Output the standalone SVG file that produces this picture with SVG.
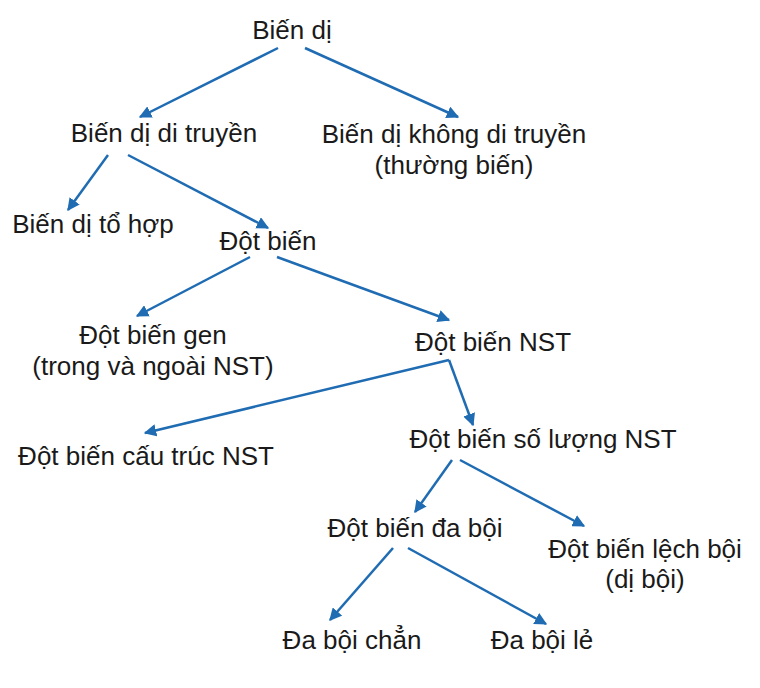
<svg xmlns="http://www.w3.org/2000/svg" width="760" height="688" viewBox="0 0 760 688">
<style>
text{font-family:"Liberation Sans",Arial,sans-serif;font-size:26px;fill:#1a1a1a;text-anchor:middle}
.c line{stroke:#1f6cb3;stroke-width:2.5;marker-end:url(#a)}
</style>
<defs><marker id="a" viewBox="0 0 10 10" refX="9" refY="5" markerWidth="5" markerHeight="5" orient="auto" markerUnits="strokeWidth"><path d="M0,0L10,5L0,10z" fill="#1f6cb3"/></marker></defs>
<rect width="760" height="688" fill="#fff"/>
<g class="c">
<line x1="278" y1="48" x2="140" y2="117"/>
<line x1="305" y1="48" x2="458" y2="117"/>
<line x1="108" y1="155" x2="68" y2="210"/>
<line x1="128" y1="155" x2="268" y2="228"/>
<line x1="250" y1="257" x2="137" y2="316"/>
<line x1="277" y1="257" x2="449" y2="320"/>
<line x1="449" y1="360" x2="145" y2="433"/>
<line x1="449" y1="360" x2="473" y2="425"/>
<line x1="452" y1="460" x2="415" y2="512"/>
<line x1="460" y1="460" x2="584" y2="526"/>
<line x1="393" y1="548" x2="330" y2="620"/>
<line x1="408" y1="548" x2="546" y2="624"/>
</g>
<g id="n1"><text x="292" y="39">Biến dị</text></g>
<g id="n2"><text x="164" y="142">Biến dị di truyền</text></g>
<g id="n3"><text x="454" y="143">Biến dị không di truyền</text><text x="454" y="174">(thường biến)</text></g>
<g id="n4"><text x="93" y="233">Biến dị tổ hợp</text></g>
<g id="n5"><text x="268" y="250">Đột biến</text></g>
<g id="n6"><text x="153" y="344">Đột biến gen</text><text x="153" y="375">(trong và ngoài NST)</text></g>
<g id="n7"><text x="493" y="351">Đột biến NST</text></g>
<g id="n8"><text x="146" y="465">Đột biến cấu trúc NST</text></g>
<g id="n9"><text x="543" y="448">Đột biến số lượng NST</text></g>
<g id="n10"><text x="415" y="537">Đột biến đa bội</text></g>
<g id="n11"><text x="645" y="558">Đột biến lệch bội</text><text x="645" y="588">(dị bội)</text></g>
<g id="n12"><text x="352" y="649">Đa bội chẳn</text></g>
<g id="n13"><text x="542" y="649">Đa bội lẻ</text></g>
</svg>
